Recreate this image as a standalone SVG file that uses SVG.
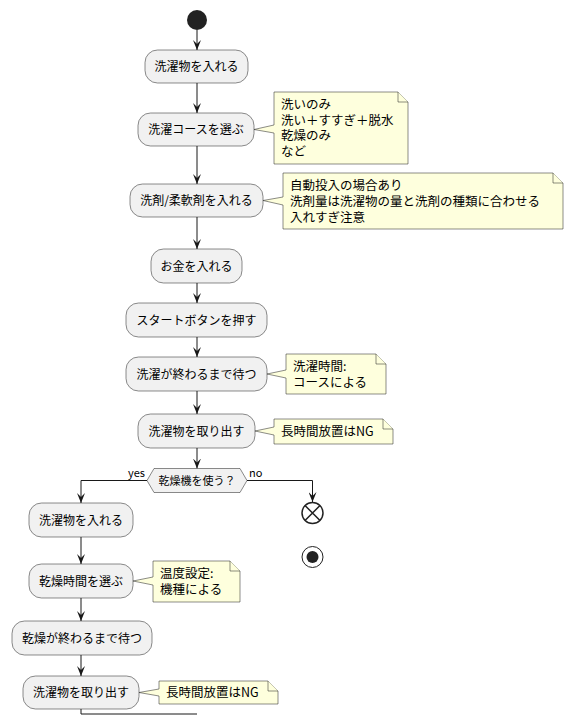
<svg xmlns="http://www.w3.org/2000/svg" width="574" height="726" viewBox="0 0 574 726">
<style>
.act rect{fill:#F1F1F1;stroke:#181818;stroke-width:0.5}
.act text{font-family:"Noto Sans CJK JP","Noto Sans",sans-serif;font-size:12px;fill:#000;text-anchor:middle}
.note path{fill:#FEFFDD;stroke:#181818;stroke-width:0.5}
.note text{font-family:"Noto Sans CJK JP","Noto Sans",sans-serif;font-size:12.5px;fill:#000}
.lbl{font-family:"Noto Sans CJK JP","Noto Sans",sans-serif;font-size:11px;fill:#000}
.conn{fill:none;stroke:#181818;stroke-width:1}
</style>
<defs>
<marker id="ah" viewBox="0 0 10 8" refX="10" refY="4" markerWidth="10" markerHeight="8" markerUnits="userSpaceOnUse" orient="auto">
<path d="M0,0 L10,4 L0,8 L4,4 Z" fill="#181818"/>
</marker>
</defs>
<rect width="574" height="726" fill="#FFFFFF"/>

<g id="connectors">
<line class="conn" x1="197" y1="30" x2="197" y2="50" marker-end="url(#ah)"/>
<line class="conn" x1="197" y1="83" x2="197" y2="113" marker-end="url(#ah)"/>
<line class="conn" x1="197" y1="146" x2="197" y2="184" marker-end="url(#ah)"/>
<line class="conn" x1="197" y1="217" x2="197" y2="249" marker-end="url(#ah)"/>
<line class="conn" x1="197" y1="283" x2="197" y2="303" marker-end="url(#ah)"/>
<line class="conn" x1="197" y1="337" x2="197" y2="357" marker-end="url(#ah)"/>
<line class="conn" x1="197" y1="391" x2="197" y2="414" marker-end="url(#ah)"/>
<line class="conn" x1="197" y1="448" x2="197" y2="468.5" marker-end="url(#ah)"/>
<polyline class="conn" points="147,480.5 81,480.5 81,503" marker-end="url(#ah)"/>
<polyline class="conn" points="247,480.5 312.5,480.5 312.5,502" marker-end="url(#ah)"/>
<line class="conn" x1="81" y1="537" x2="81" y2="564" marker-end="url(#ah)"/>
<line class="conn" x1="81" y1="598" x2="81" y2="621" marker-end="url(#ah)"/>
<line class="conn" x1="81" y1="655" x2="81" y2="676" marker-end="url(#ah)"/>
<polyline class="conn" points="81,709 81,714 197,714"/>
<text class="lbl" x="145" y="477" text-anchor="end">yes</text>
<text class="lbl" x="249" y="477">no</text>
</g>

<g id="start"><circle cx="197" cy="20" r="10" fill="#222222"/></g>

<g id="a1" class="act"><rect x="145" y="50" width="103" height="33" rx="12.5"/><text x="196.5" y="71">洗濯物を入れる</text></g>
<g id="a2" class="act"><rect x="138" y="113" width="116" height="33" rx="12.5"/><text x="196" y="134">洗濯コースを選ぶ</text></g>
<g id="n1" class="note"><path d="M274,92 L398,92 L408,102 L408,164 L274,164 L274,133 L254,129.5 L274,125 Z"/><path d="M398,92 L398,102 L408,102"/>
<text x="281" y="109">洗いのみ<tspan x="281" dy="15.5">洗い＋すすぎ＋脱水</tspan><tspan x="281" dy="15.5">乾燥のみ</tspan><tspan x="281" dy="15.5">など</tspan></text></g>
<g id="a3" class="act"><rect x="130" y="184" width="133" height="33" rx="12.5"/><text x="196.5" y="205">洗剤/柔軟剤を入れる</text></g>
<g id="n2" class="note"><path d="M283,173 L553,173 L563,183 L563,229 L283,229 L283,205 L263,200.5 L283,197 Z"/><path d="M553,173 L553,183 L563,183"/>
<text x="290" y="190">自動投入の場合あり<tspan x="290" dy="16">洗剤量は洗濯物の量と洗剤の種類に合わせる</tspan><tspan x="290" dy="16">入れすぎ注意</tspan></text></g>
<g id="a4" class="act"><rect x="151" y="249" width="91" height="34" rx="12.5"/><text x="196.5" y="270.5">お金を入れる</text></g>
<g id="a5" class="act"><rect x="126" y="303" width="141" height="34" rx="12.5"/><text x="196.5" y="324.5">スタートボタンを押す</text></g>
<g id="a6" class="act"><rect x="126" y="357" width="141" height="34" rx="12.5"/><text x="196.5" y="378.5">洗濯が終わるまで待つ</text></g>
<g id="n3" class="note"><path d="M286,354 L376,354 L386,364 L386,394 L286,394 L286,378 L267,374 L286,370 Z"/><path d="M376,354 L376,364 L386,364"/>
<text x="293" y="371">洗濯時間:<tspan x="293" dy="16">コースによる</tspan></text></g>
<g id="a7" class="act"><rect x="138" y="414" width="117" height="34" rx="12.5"/><text x="196.5" y="435.5">洗濯物を取り出す</text></g>
<g id="n4" class="note"><path d="M274,419 L383,419 L393,429 L393,444 L274,444 L274,435 L255,431 L274,427 Z"/><path d="M383,419 L383,429 L393,429"/>
<text x="281" y="436">長時間放置はNG</text></g>

<g id="d1"><polygon points="147,480.5 154,468.5 240,468.5 247,480.5 240,492.5 154,492.5" fill="#F1F1F1" stroke="#181818" stroke-width="0.5"/>
<text class="lbl" x="197" y="484.5" text-anchor="middle">乾燥機を使う？</text></g>

<g id="end1"><circle cx="312.5" cy="513" r="10.5" fill="#FFFFFF" stroke="#222222" stroke-width="1.5"/>
<path d="M305,505.5 L320,520.5 M320,505.5 L305,520.5" stroke="#222222" stroke-width="1.5"/></g>
<g id="stop1"><circle cx="312.5" cy="557" r="10.5" fill="#FFFFFF" stroke="#222222" stroke-width="1"/><circle cx="312.5" cy="557" r="6" fill="#222222"/></g>

<g id="b1" class="act"><rect x="29" y="503" width="104" height="34" rx="12.5"/><text x="81" y="524.5">洗濯物を入れる</text></g>
<g id="b2" class="act"><rect x="29" y="564" width="104" height="34" rx="12.5"/><text x="81" y="585.5">乾燥時間を選ぶ</text></g>
<g id="n5" class="note"><path d="M153,561 L230,561 L240,571 L240,602 L153,602 L153,585 L133,581 L153,577 Z"/><path d="M230,561 L230,571 L240,571"/>
<text x="160" y="578">温度設定:<tspan x="160" dy="16">機種による</tspan></text></g>
<g id="b3" class="act"><rect x="12" y="621" width="140" height="34" rx="12.5"/><text x="82" y="642.5">乾燥が終わるまで待つ</text></g>
<g id="b4" class="act"><rect x="23" y="676" width="116" height="33" rx="12.5"/><text x="81" y="697">洗濯物を取り出す</text></g>
<g id="n6" class="note"><path d="M159,681 L268,681 L278,691 L278,704 L159,704 L159,696 L139,692.5 L159,689 Z"/><path d="M268,681 L268,691 L278,691"/>
<text x="166" y="697">長時間放置はNG</text></g>
</svg>
